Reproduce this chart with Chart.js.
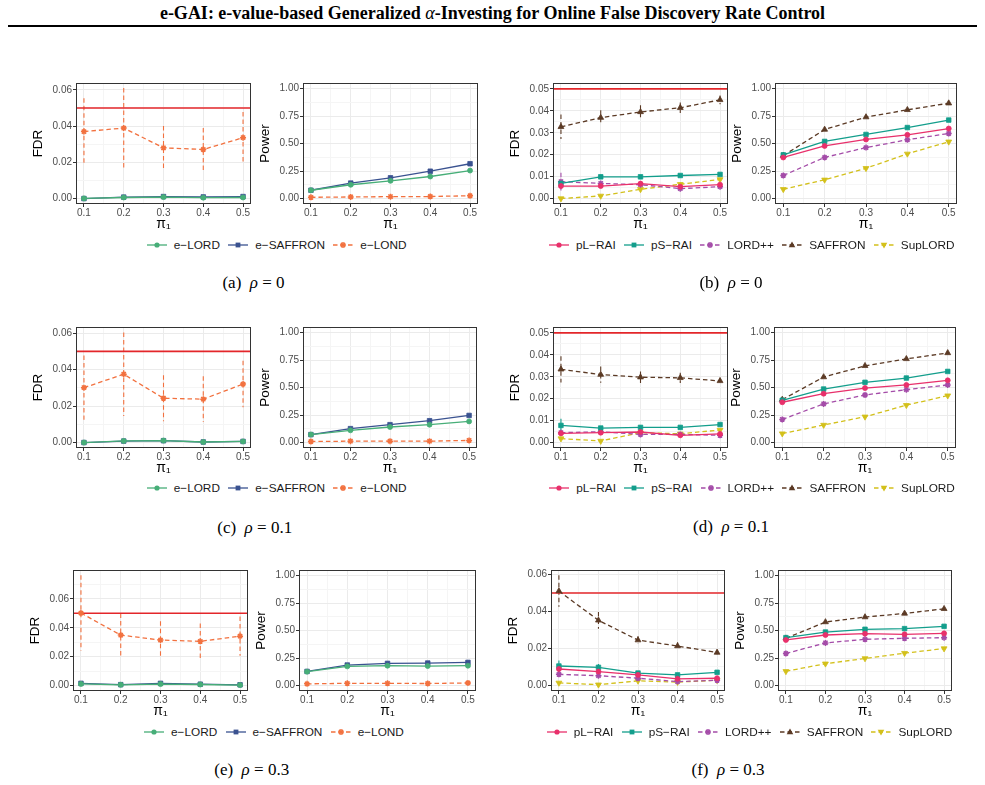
<!DOCTYPE html>
<html>
<head>
<meta charset="utf-8">
<title>e-GAI simulation results</title>
<script src="https://cdn.jsdelivr.net/npm/chart.js@4.4.1/dist/chart.umd.min.js"></script>
<style>
    body { margin: 0; width: 985px; height: 785px; background: #fff; position: relative; overflow: hidden;
           font-family: "Liberation Sans", Arial, sans-serif; }
    #header { position: absolute; left: 0; top: 3px; width: 985px; text-align: center;
              font: bold 18px/20px "Liberation Serif", "Times New Roman", serif; color: #000; }
    #header i { font-weight: normal; }
    #rule { position: absolute; left: 8px; top: 25px; width: 969px; height: 2px; background: #000; }
    .panel { position: absolute; }
    .legend { position: absolute; display: flex; align-items: center; font-size: 11.8px; color: #1a1a1a;
              white-space: nowrap; transform: translateY(-50%); }
    .legend .item { display: flex; align-items: center; margin-right: 8.3px; }
    .legend svg { margin-right: 7px; }
    .caption { position: absolute; font: 17px "Liberation Serif", "Times New Roman", serif; color: #000;
               transform: translate(-50%, -50%); white-space: nowrap; }
</style>
</head>
<body>
<div id="header">e-GAI: e-value-based Generalized <i>α</i>-Investing for Online False Discovery Rate Control</div>
<div id="rule"></div>

<script>
// ---- data ----
const PI1 = [0.1, 0.2, 0.3, 0.4, 0.5];

const E_METHODS = ['e−LORD', 'e−SAFFRON', 'e−LOND'];
const P_METHODS = ['pL−RAI', 'pS−RAI', 'LORD++', 'SAFFRON', 'SupLORD'];

// (a) rho = 0, e-value methods
const fdrA = [
    [0.0001, 0.0006, 0.0008, 0.0005, 0.0006],
    [0.0000, 0.0008, 0.0011, 0.0009, 0.0011],
    [0.0370, 0.0389, 0.0280, 0.0271, 0.0336]
];
const fdrErrA = [null, null, [0.0184, 0.0222, 0.0121, 0.0118, 0.0142]];
const powA = [
    [0.075, 0.125, 0.161, 0.200, 0.254],
    [0.075, 0.140, 0.188, 0.248, 0.316],
    [0.011, 0.014, 0.017, 0.018, 0.025]
];

// (c) rho = 0.1
const fdrC = [
    [0.0000, 0.0009, 0.0011, 0.0003, 0.0006],
    [0.0000, 0.0008, 0.0010, 0.0003, 0.0006],
    [0.0301, 0.0375, 0.0243, 0.0238, 0.0321]
];
const fdrErrC = [null, null, [0.0176, 0.0229, 0.0126, 0.0126, 0.0128]];
const powC = [
    [0.072, 0.111, 0.141, 0.162, 0.192],
    [0.072, 0.126, 0.162, 0.198, 0.246],
    [0.009, 0.012, 0.012, 0.012, 0.019]
];

// (e) rho = 0.3
const fdrE = [
    [0.0011, 0.0005, 0.0010, 0.0007, 0.0003],
    [0.0015, 0.0006, 0.0015, 0.0009, 0.0005],
    [0.0502, 0.0349, 0.0315, 0.0306, 0.0342]
];
const fdrErrE = [null, null, [0.0262, 0.0150, 0.0130, 0.0124, 0.0136]];
const powE = [
    [0.126, 0.174, 0.180, 0.177, 0.180],
    [0.128, 0.186, 0.201, 0.204, 0.210],
    [0.015, 0.020, 0.020, 0.018, 0.023]
];

// (b) rho = 0, p-value methods
const fdrB = [
    [0.0057, 0.0057, 0.0068, 0.0054, 0.0063],
    [0.0069, 0.0099, 0.0099, 0.0105, 0.0110],
    [0.0077, 0.0069, 0.0063, 0.0045, 0.0054],
    [0.0327, 0.0369, 0.0395, 0.0414, 0.0450],
    [0.0000, 0.0012, 0.0042, 0.0065, 0.0087]
];
const fdrErrB = [
    [0.0012, 0.0008, 0.0008, 0.0007, 0.0007],
    [0.0010, 0.0009, 0.0008, 0.0008, 0.0007],
    [0.0040, 0.0010, 0.0009, 0.0008, 0.0007],
    [0.0056, 0.0034, 0.0030, 0.0024, 0.0020],
    [0.0003, 0.0006, 0.0008, 0.0008, 0.0008]
];
const powB = [
    [0.373, 0.478, 0.537, 0.579, 0.636],
    [0.397, 0.519, 0.582, 0.645, 0.713],
    [0.209, 0.373, 0.463, 0.534, 0.591],
    [0.390, 0.627, 0.740, 0.806, 0.866],
    [0.084, 0.170, 0.275, 0.406, 0.516]
];

// (d) rho = 0.1
const fdrD = [
    [0.0042, 0.0045, 0.0048, 0.0033, 0.0039],
    [0.0078, 0.0066, 0.0069, 0.0069, 0.0082],
    [0.0045, 0.0049, 0.0037, 0.0037, 0.0033],
    [0.0334, 0.0310, 0.0298, 0.0295, 0.0281],
    [0.0018, 0.0007, 0.0045, 0.0040, 0.0057]
];
const fdrErrD = [
    [0.0010, 0.0008, 0.0007, 0.0006, 0.0006],
    [0.0030, 0.0009, 0.0008, 0.0008, 0.0008],
    [0.0008, 0.0007, 0.0006, 0.0006, 0.0006],
    [0.0060, 0.0037, 0.0026, 0.0023, 0.0015],
    [0.0006, 0.0004, 0.0007, 0.0007, 0.0008]
];
const powD = [
    [0.366, 0.444, 0.495, 0.523, 0.565],
    [0.384, 0.486, 0.547, 0.586, 0.646],
    [0.210, 0.351, 0.432, 0.480, 0.523],
    [0.390, 0.595, 0.697, 0.760, 0.814],
    [0.081, 0.159, 0.234, 0.339, 0.426]
];

// (f) rho = 0.3
const fdrF = [
    [0.0089, 0.0075, 0.0057, 0.0036, 0.0039],
    [0.0105, 0.0098, 0.0067, 0.0057, 0.0071],
    [0.0060, 0.0053, 0.0039, 0.0021, 0.0028],
    [0.0510, 0.0352, 0.0245, 0.0213, 0.0178],
    [0.0014, 0.0004, 0.0025, 0.0018, 0.0028]
];
const fdrErrF = [
    [0.0020, 0.0014, 0.0010, 0.0007, 0.0007],
    [0.0030, 0.0018, 0.0010, 0.0008, 0.0009],
    [0.0012, 0.0010, 0.0008, 0.0006, 0.0006],
    [0.0085, 0.0045, 0.0021, 0.0020, 0.0015],
    [0.0008, 0.0005, 0.0007, 0.0006, 0.0006]
];
const powF = [
    [0.414, 0.459, 0.471, 0.465, 0.474],
    [0.435, 0.486, 0.511, 0.517, 0.538],
    [0.291, 0.387, 0.420, 0.429, 0.435],
    [0.429, 0.577, 0.622, 0.655, 0.697],
    [0.129, 0.198, 0.246, 0.294, 0.336]
];

const ALPHA = 0.05;

// tick labels
const X_MAJOR = [0.1, 0.2, 0.3, 0.4, 0.5];
const X_MINOR = [0.15, 0.25, 0.35, 0.45];
const FDR6_MAJOR = [0, 0.02, 0.04, 0.06];
const FDR6_MINOR = [0.01, 0.03, 0.05, 0.07];
const FDR5_MAJOR = [0, 0.01, 0.02, 0.03, 0.04, 0.05];
const FDR5_MINOR = [0.005, 0.015, 0.025, 0.035, 0.045];
const POW_MAJOR = [0, 0.25, 0.5, 0.75, 1];
const POW_MINOR = [0.125, 0.375, 0.625, 0.875];

// ---- styles ----
const E_STYLE = [
    { color: '#47AE78', dash: false, shape: 'circle' },
    { color: '#3A5290', dash: false, shape: 'square' },
    { color: '#F2713F', dash: true,  shape: 'star' }
];
const P_STYLE = [
    { color: '#E8306B', dash: false, shape: 'circle' },
    { color: '#139E8C', dash: false, shape: 'square' },
    { color: '#A44CA8', dash: true,  shape: 'star' },
    { color: '#5B3A25', dash: true,  shape: 'triangle' },
    { color: '#D3C01B', dash: true,  shape: 'triangleDown' }
];
const DASH = [4.5, 3];
const AXIS_W = 46, AXIS_H = 29, PAD_T = 5, PAD_R = 6;

Chart.defaults.font.family = '"Liberation Sans", Arial, sans-serif';

// vertical error bars, dashed like their series
const errorBarPlugin = {
    id: 'errorBars',
    beforeDatasetsDraw(chart) {
        const ctx = chart.ctx, a = chart.chartArea;
        const xs = chart.scales.x, ys = chart.scales.y;
        ctx.save();
        ctx.beginPath();
        ctx.rect(a.left, a.top, a.right - a.left, a.bottom - a.top);
        ctx.clip();
        chart.data.datasets.forEach(ds => {
            if (!ds.err) return;
            ctx.strokeStyle = ds.borderColor;
            ctx.lineWidth = 1.1;
            ctx.setLineDash(ds.borderDash || []);
            ds.data.forEach((p, i) => {
                const x = xs.getPixelForValue(p.x);
                ctx.beginPath();
                ctx.moveTo(x, ys.getPixelForValue(p.y + ds.err[i]));
                ctx.lineTo(x, ys.getPixelForValue(p.y - ds.err[i]));
                ctx.stroke();
            });
        });
        ctx.restore();
    }
};

// ggplot theme_bw panel border
const borderPlugin = {
    id: 'panelBorder',
    afterDraw(chart) {
        const ctx = chart.ctx, a = chart.chartArea;
        ctx.save();
        ctx.strokeStyle = '#333333';
        ctx.lineWidth = 1;
        ctx.strokeRect(a.left + 0.5, a.top + 0.5, a.right - a.left - 1, a.bottom - a.top - 1);
        ctx.restore();
    }
};

function isIn(list, v) {
    return list.some(m => Math.abs(m - v) < 1e-9);
}

function axisOptions(major, minor, min, max, fmt, title, isX) {
    return {
        type: 'linear',
        min: min,
        max: max,
        afterBuildTicks: s => { s.ticks = major.concat(minor).sort((p, q) => p - q).map(v => ({ value: v })); },
        afterFit: s => { if (isX) s.height = AXIS_H; else s.width = AXIS_W; },
        ticks: {
            autoSkip: false,
            maxRotation: 0,
            padding: isX ? 0 : 1,
            color: '#4D4D4D',
            font: { size: 10 },
            callback: v => isIn(major, v) ? fmt(v) : ''
        },
        grid: {
            color: c => (c.tick && isIn(major, c.tick.value)) ? '#EBEBEB' : '#F5F5F5',
            tickColor: c => (c.tick && isIn(major, c.tick.value)) ? '#333333' : 'rgba(0,0,0,0)',
            tickLength: 3,
            lineWidth: 1
        },
        border: { display: false },
        title: {
            display: true,
            text: title,
            color: '#000',
            font: { size: isX ? 14 : 13.5 },
            padding: { top: 0, bottom: isX ? 0 : 1 }
        }
    };
}

function makeDatasets(values, errs, styles, names) {
    return values.map((vals, k) => {
        const st = styles[k];
        const tri = st.shape === 'triangle' || st.shape === 'triangleDown';
        return {
            label: names[k],
            data: PI1.map((x, i) => ({ x: x, y: vals[i] })),
            borderColor: st.color,
            backgroundColor: st.color,
            borderWidth: 1.3,
            borderDash: st.dash ? DASH : [],
            pointStyle: tri ? 'triangle' : (st.shape === 'square' ? 'rect' : st.shape),
            rotation: st.shape === 'triangleDown' ? 180 : 0,
            pointRadius: tri ? 3.4 : (st.shape === 'square' ? 3.2 : (st.shape === 'star' ? 3 : 2.5)),
            pointBorderWidth: st.shape === 'star' ? 1.5 : 0.8,
            err: errs ? errs[k] : null,
            order: k
        };
    });
}

function makePanel(box, values, errs, styles, names, kind, yMin, yMax) {
    const left = Math.round(box[0] - AXIS_W), top = Math.round(box[1] - PAD_T);
    const width = Math.round(box[2] - box[0] + AXIS_W + PAD_R);
    const height = Math.round(box[3] - box[1] + PAD_T + AXIS_H);
    const canvas = document.createElement('canvas');
    canvas.className = 'panel';
    canvas.width = width;
    canvas.height = height;
    canvas.style.left = left + 'px';
    canvas.style.top = top + 'px';
    canvas.style.width = width + 'px';
    canvas.style.height = height + 'px';
    document.body.appendChild(canvas);

    let yMajor = POW_MAJOR, yMinor = POW_MINOR, title = 'Power';
    const datasets = makeDatasets(values, errs, styles, names);
    if (kind !== 'power') {
        title = 'FDR';
        yMajor = kind === 'fdr5' ? FDR5_MAJOR : FDR6_MAJOR;
        yMinor = kind === 'fdr5' ? FDR5_MINOR : FDR6_MINOR;
        // target level alpha
        datasets.push({
            label: 'alpha',
            data: [{ x: 0.08, y: ALPHA }, { x: 0.52, y: ALPHA }],
            borderColor: '#E3262A',
            borderWidth: 1.6,
            pointRadius: 0,
            order: 20
        });
    }

    new Chart(canvas, {
        type: 'line',
        data: { datasets: datasets },
        options: {
            responsive: false,
            animation: false,
            events: [],
            layout: { padding: { top: PAD_T, right: PAD_R, left: 0, bottom: 0 } },
            plugins: { legend: { display: false }, tooltip: { enabled: false } },
            scales: {
                x: axisOptions(X_MAJOR, X_MINOR, 0.08, 0.52, v => v.toFixed(1), 'π₁', true),
                y: axisOptions(yMajor, yMinor, yMin, yMax, v => v.toFixed(2), title, false)
            }
        },
        plugins: [errorBarPlugin, borderPlugin]
    });
}

function markerSvg(st) {
    const c = st.color;
    const line = `<line x1="0" y1="6" x2="20" y2="6" stroke="${c}" stroke-width="1.3"` +
        (st.dash ? ` stroke-dasharray="${DASH.join(' ')}"` : '') + '/>';
    let m = '';
    if (st.shape === 'circle') m = `<circle cx="10" cy="6" r="2.6" fill="${c}"/>`;
    else if (st.shape === 'square') m = `<rect x="7.6" y="3.6" width="4.8" height="4.8" fill="${c}"/>`;
    else if (st.shape === 'triangle') m = `<polygon points="10,2.4 13.3,8.2 6.7,8.2" fill="${c}"/>`;
    else if (st.shape === 'triangleDown') m = `<polygon points="10,9.6 13.3,3.8 6.7,3.8" fill="${c}"/>`;
    else m = `<g stroke="${c}" stroke-width="1.5"><line x1="7" y1="6" x2="13" y2="6"/><line x1="10" y1="3" x2="10" y2="9"/>` +
        `<line x1="7.9" y1="3.9" x2="12.1" y2="8.1"/><line x1="7.9" y1="8.1" x2="12.1" y2="3.9"/></g>`;
    return `<svg width="20" height="12" viewBox="0 0 20 12">${line}${m}</svg>`;
}

function makeLegend(left, cy, names, styles) {
    const div = document.createElement('div');
    div.className = 'legend';
    div.style.left = left + 'px';
    div.style.top = cy + 'px';
    div.innerHTML = names.map((n, k) =>
        `<span class="item">${markerSvg(styles[k])}<span>${n}</span></span>`).join('');
    document.body.appendChild(div);
}

function makeCaption(cx, cy, tag, rho) {
    const div = document.createElement('div');
    div.className = 'caption';
    div.style.left = cx + 'px';
    div.style.top = cy + 'px';
    div.innerHTML = `(${tag})&nbsp;&nbsp;<i>ρ</i>&nbsp;=&nbsp;${rho}`;
    document.body.appendChild(div);
}

// ---- build the figure ----
makePanel([75.7, 80.7, 250.7, 203.3], fdrA, fdrErrA, E_STYLE, E_METHODS, 'fdr6', -0.003, 0.0638);
makePanel([303.3, 80.7, 478.3, 203.3], powA, null, E_STYLE, E_METHODS, 'power', -0.05, 1.05);
makePanel([552.7, 80.7, 727.7, 203.3], fdrB, fdrErrB, P_STYLE, P_METHODS, 'fdr5', -0.0025, 0.0527);
makePanel([775, 80.7, 956.7, 203.3], powB, null, P_STYLE, P_METHODS, 'power', -0.05, 1.05);

makePanel([75.7, 325, 251, 447.7], fdrC, fdrErrC, E_STYLE, E_METHODS, 'fdr6', -0.003, 0.0634);
makePanel([303.3, 325, 477.3, 447.7], powC, null, E_STYLE, E_METHODS, 'power', -0.05, 1.05);
makePanel([552.7, 325, 727.3, 447.7], fdrD, fdrErrD, P_STYLE, P_METHODS, 'fdr5', -0.0025, 0.0527);
makePanel([774.3, 325, 956, 447.7], powD, null, P_STYLE, P_METHODS, 'power', -0.05, 1.05);

makePanel([73.3, 568.3, 248.3, 691], fdrE, fdrErrE, E_STYLE, E_METHODS, 'fdr6', -0.0038, 0.0800);
makePanel([299.3, 568.3, 476, 691], powE, null, E_STYLE, E_METHODS, 'power', -0.05, 1.05);
makePanel([550.7, 568.3, 725, 691], fdrF, fdrErrF, P_STYLE, P_METHODS, 'fdr6', -0.003, 0.0624);
makePanel([778.3, 568.3, 952.7, 691], powF, null, P_STYLE, P_METHODS, 'power', -0.05, 1.05);

makeLegend(146.7, 245, E_METHODS, E_STYLE);
makeLegend(549, 245, P_METHODS, P_STYLE);
makeLegend(146.7, 488.3, E_METHODS, E_STYLE);
makeLegend(549.3, 488.3, P_METHODS, P_STYLE);
makeLegend(144, 731.7, E_METHODS, E_STYLE);
makeLegend(546.7, 731.7, P_METHODS, P_STYLE);

makeCaption(253.5, 283, 'a', '0');
makeCaption(731, 283, 'b', '0');
makeCaption(254.7, 528.3, 'c', '0.1');
makeCaption(731, 526.7, 'd', '0.1');
makeCaption(251.7, 770, 'e', '0.3');
makeCaption(728, 770, 'f', '0.3');
</script>
</body>
</html>
